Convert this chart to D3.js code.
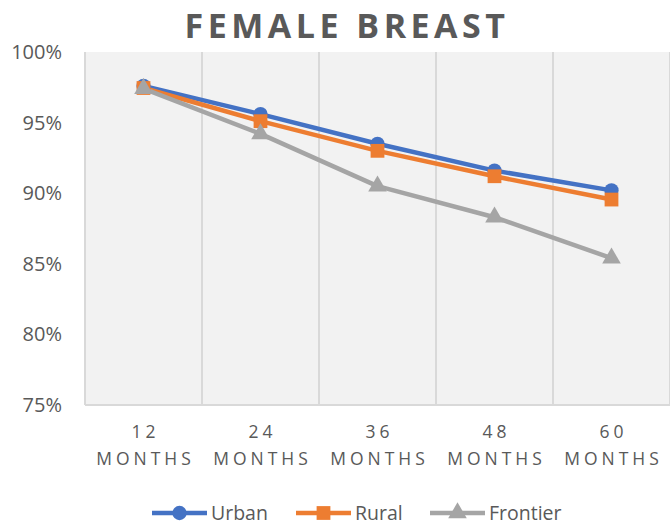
<!DOCTYPE html>
<html>
<head>
<meta charset="utf-8">
<script src="https://cdn.jsdelivr.net/npm/d3@7"></script>
<style>
  body { margin: 0; background: #fff; }
  svg text { font-family: "Open Sans", "Liberation Sans", sans-serif; fill: #595959; }
</style>
</head>
<body>
<svg id="chart" width="670" height="525"></svg>
<script>
const categories = ["12 MONTHS", "24 MONTHS", "36 MONTHS", "48 MONTHS", "60 MONTHS"];
const urban = [97.6, 95.6, 93.5, 91.6, 90.2];
const rural = [97.45, 95.1, 93.0, 91.2, 89.55];
const frontier = [97.4, 94.2, 90.5, 88.3, 85.4];
const yTicks = [75, 80, 85, 90, 95, 100];

const series = [
    { name: "Urban", values: urban, color: "#4472C4", shape: d3.symbolCircle, size: 160 },
    { name: "Rural", values: rural, color: "#ED7D31", shape: d3.symbolSquare, size: 190 },
    { name: "Frontier", values: frontier, color: "#A5A5A5", shape: d3.symbolTriangle, size: 150 }
];

const svg = d3.select("#chart");
const plotL = 85, plotR = 670, plotT = 52, plotB = 405;

const x = d3.scaleBand().domain(categories).range([plotL, plotR]);
const y = d3.scaleLinear().domain([75, 100]).range([plotB, plotT]);

// plot background
svg.append("rect")
    .attr("x", plotL).attr("y", plotT)
    .attr("width", plotR - plotL).attr("height", plotB - plotT)
    .attr("fill", "#f2f2f2");

// vertical gridlines between categories
const bounds = categories.map(c => x(c)).concat([plotR]);
svg.append("g")
    .selectAll("line")
    .data(bounds)
    .enter()
    .append("line")
    .attr("x1", d => d).attr("x2", d => d)
    .attr("y1", plotT).attr("y2", plotB)
    .attr("stroke", "#d9d9d9")
    .attr("stroke-width", 2);

svg.append("line")
    .attr("x1", plotL).attr("x2", plotR)
    .attr("y1", plotB).attr("y2", plotB)
    .attr("stroke", "#d9d9d9")
    .attr("stroke-width", 2);

// y labels
svg.append("g")
    .selectAll("text")
    .data(yTicks)
    .enter()
    .append("text")
    .text(d => d + "%")
    .attr("x", 62)
    .attr("y", d => y(d))
    .attr("dy", "0.35em")
    .style("text-anchor", "end")
    .style("font-size", "20px");

// x labels, two lines each
const xl = svg.append("g")
    .selectAll("text")
    .data(categories)
    .enter()
    .append("text")
    .style("text-anchor", "middle")
    .style("font-size", "17.5px")
    .style("letter-spacing", "4px");
xl.append("tspan")
    .attr("x", d => x(d) + x.bandwidth() / 2 + 2)
    .attr("y", 438)
    .text(d => d.split(" ")[0]);
xl.append("tspan")
    .attr("x", d => x(d) + x.bandwidth() / 2 + 2)
    .attr("y", 465)
    .text(d => d.split(" ")[1]);

// lines and markers
const line = d3.line()
    .x((d, i) => x(categories[i]) + x.bandwidth() / 2)
    .y(d => y(d));

series.forEach(s => {
    svg.append("path")
        .attr("d", line(s.values))
        .attr("fill", "none")
        .attr("stroke", s.color)
        .attr("stroke-width", 4.5)
        .attr("stroke-linejoin", "round");
});
series.forEach(s => {
    svg.append("g")
        .selectAll("path")
        .data(s.values)
        .enter()
        .append("path")
        .attr("d", d3.symbol().type(s.shape).size(s.size))
        .attr("transform", (d, i) => `translate(${x(categories[i]) + x.bandwidth() / 2},${y(d)})`)
        .attr("fill", s.color);
});

// title
svg.append("text")
    .text("FEMALE BREAST")
    .attr("x", 347)
    .attr("y", 38)
    .style("text-anchor", "middle")
    .style("font-size", "34px")
    .style("font-weight", "bold")
    .style("letter-spacing", "4.5px");

// legend
const legendX = [152, 296, 430];
const leg = svg.append("g")
    .selectAll("g")
    .data(series)
    .enter()
    .append("g")
    .attr("transform", (d, i) => `translate(${legendX[i]},513)`);
leg.append("line")
    .attr("x1", 0).attr("x2", 55)
    .attr("stroke", d => d.color)
    .attr("stroke-width", 4.5);
leg.append("path")
    .attr("d", d => d3.symbol().type(d.shape).size(d.size)())
    .attr("transform", "translate(27.5,0)")
    .attr("fill", d => d.color);
leg.append("text")
    .text(d => d.name)
    .attr("x", 59)
    .attr("dy", "0.35em")
    .style("font-size", "19.5px");
</script>
</body>
</html>
